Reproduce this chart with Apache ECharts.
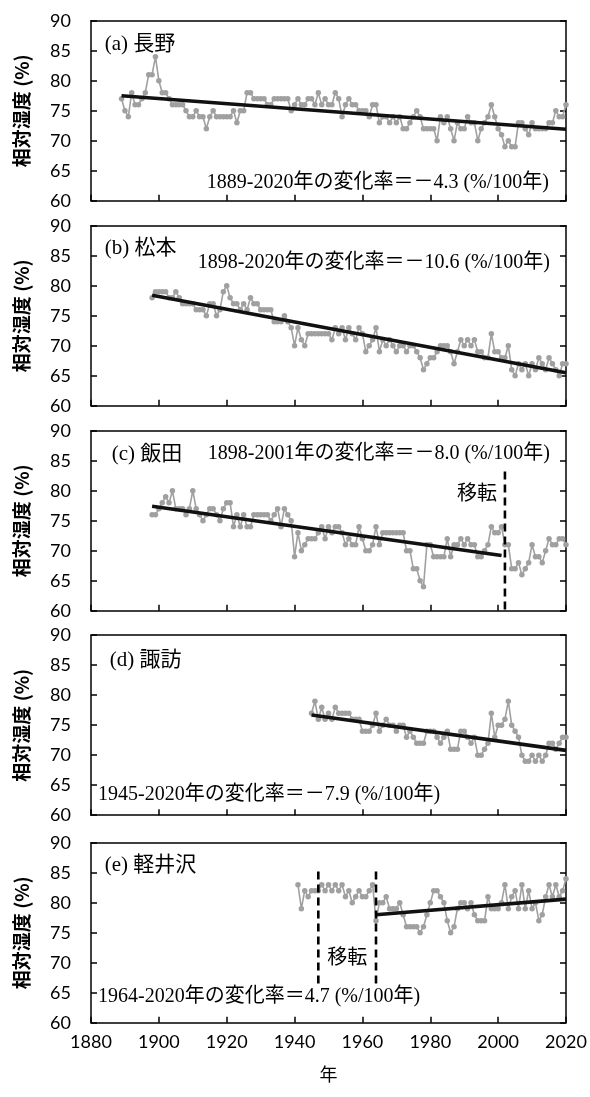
<!DOCTYPE html>
<html>
<head>
<meta charset="utf-8">
<script src="https://cdn.jsdelivr.net/npm/echarts@6/dist/echarts.min.js"></script>
<style>
  html, body { margin: 0; padding: 0; background: #fff; }
  #chart { width: 590px; height: 1097px; }
</style>
</head>
<body>
<div id="chart"></div>
<script>
// Annual mean relative humidity (%) at five stations in Nagano Prefecture.

// ---- axes ----
const yearTicks = [1880, 1900, 1920, 1940, 1960, 1980, 2000, 2020];
const rhTicks = [60, 65, 70, 75, 80, 85, 90];

// ---- (a) Nagano, 1889-2020 ----
const naganoStart = 1889;
const naganoRH = [
  77, 75, 74, 78, 76, 76, 77, 78, 81, 81,
  84, 80, 78, 78, 77, 76, 76, 76, 76, 75,
  74, 74, 75, 74, 74, 72, 74, 75, 74, 74,
  74, 74, 74, 75, 73, 75, 75, 78, 78, 77,
  77, 77, 77, 76, 76, 77, 77, 77, 77, 77,
  75, 76, 77, 76, 76, 77, 77, 76, 78, 76,
  77, 76, 76, 78, 77, 74, 76, 77, 76, 76,
  75, 75, 75, 74, 76, 76, 73, 74, 74, 73,
  74, 73, 74, 72, 72, 73, 74, 75, 74, 72,
  72, 72, 72, 70, 74, 73, 74, 72, 70, 73,
  72, 72, 74, 73, 73, 70, 72, 73, 74, 76,
  74, 72, 71, 69, 70, 69, 69, 73, 73, 72,
  71, 73, 72, 72, 72, 72, 73, 73, 75, 74,
  74, 76
];
const naganoTrend = [[1889, 77.5], [2020, 71.9]];

// ---- (b) Matsumoto, 1898-2020 ----
const matsumotoStart = 1898;
const matsumotoRH = [
  78, 79, 79, 79, 79, 78, 78, 79, 78, 77,
  77, 77, 77, 76, 76, 76, 75, 77, 77, 75,
  76, 79, 80, 78, 77, 77, 76, 77, 76, 78,
  77, 77, 76, 76, 76, 76, 74, 74, 74, 75,
  74, 73, 70, 73, 71, 70, 72, 72, 72, 72,
  72, 72, 72, 71, 73, 72, 73, 71, 73, 72,
  71, 73, 72, 69, 70, 71, 73, 69, 71, 70,
  71, 70, 69, 70, 70, 69, 70, 70, 69, 68,
  66, 67, 68, 68, 69, 70, 70, 70, 69, 67,
  69, 71, 70, 71, 70, 71, 69, 69, 68, 68,
  72, 69, 69, 68, 68, 70, 66, 65, 67, 66,
  67, 65, 67, 66, 68, 67, 66, 68, 67, 66,
  65, 67, 67
];
const matsumotoTrend = [[1898, 78.4], [2020, 65.5]];

// ---- (c) Iida, 1898-2020 (station moved in 2002) ----
const iidaStart = 1898;
const iidaRH = [
  76, 76, 77, 78, 79, 78, 80, 77, 77, 77,
  76, 77, 80, 77, 76, 75, 76, 77, 77, 76,
  75, 77, 78, 78, 74, 76, 74, 76, 74, 74,
  76, 76, 76, 76, 76, 75, 76, 77, 74, 77,
  76, 75, 69, 73, 70, 71, 72, 72, 72, 73,
  74, 72, 74, 73, 74, 74, 73, 71, 72, 71,
  71, 74, 72, 70, 70, 71, 74, 71, 73, 73,
  73, 73, 73, 73, 73, 70, 70, 67, 67, 65,
  64, 71, 71, 69, 69, 69, 69, 72, 69, 71,
  71, 72, 71, 72, 71, 71, 69, 69, 70, 71,
  74, 73, 73, 74, 71, 71, 67, 67, 68, 66,
  67, 68, 71, 69, 69, 68, 70, 72, 71, 71,
  72, 72, 71
];
const iidaTrend = [[1898, 77.4], [2001, 69.2]];
const iidaMoves = [2002];

// ---- (d) Suwa, 1945-2020 ----
const suwaStart = 1945;
const suwaRH = [
  77, 79, 76, 78, 76, 77, 76, 78, 77, 77,
  77, 77, 76, 76, 76, 74, 74, 74, 75, 77,
  74, 75, 76, 75, 75, 74, 75, 75, 73, 74,
  73, 72, 72, 72, 74, 74, 74, 73, 72, 73,
  74, 71, 71, 71, 74, 74, 73, 72, 73, 70,
  70, 71, 72, 77, 73, 75, 75, 76, 79, 75,
  74, 73, 70, 69, 69, 70, 69, 70, 69, 70,
  72, 72, 71, 72, 73, 73
];
const suwaTrend = [[1945, 76.7], [2020, 70.8]];

// ---- (e) Karuizawa, 1941-2020 (station moved in 1947 and 1964) ----
const karuizawaStart = 1941;
const karuizawaRH = [
  83, 79, 82, 81, 82, 82, 82, 83, 82, 83,
  82, 83, 82, 83, 81, 82, 80, 81, 82, 81,
  81, 82, 83, 77, 80, 80, 81, 79, 79, 79,
  80, 78, 76, 76, 76, 76, 75, 76, 78, 80,
  82, 82, 81, 80, 77, 75, 76, 79, 80, 80,
  79, 80, 78, 77, 77, 77, 81, 79, 79, 79,
  80, 83, 79, 81, 82, 79, 83, 79, 82, 79,
  80, 77, 78, 81, 83, 81, 83, 81, 82, 84
];
const karuizawaTrend = [[1964, 78.0], [2020, 80.6]];
const karuizawaMoves = [1947, 1964];

// ---- text ----
const panelTitles = ['(a) 長野', '(b) 松本', '(c) 飯田', '(d) 諏訪', '(e) 軽井沢'];
const rateTexts = [
  '1889-2020年の変化率＝－4.3 (%/100年)',
  '1898-2020年の変化率＝－10.6 (%/100年)',
  '1898-2001年の変化率＝－8.0 (%/100年)',
  '1945-2020年の変化率＝－7.9 (%/100年)',
  '1964-2020年の変化率＝4.7 (%/100年)'
];
const moveLabel = '移転';
const yTitle = '相対湿度 (%)';
const xTitle = '年';

// ---- layout ----
const GRID_LEFT = 91;
const GRID_WIDTH = 475;
const GRID_HEIGHT = 180;
const GRID_TOPS = [20.7, 225.7, 430.7, 635.2, 842.7];
const GREY = '#a0a0a0';
const INK = '#000';
const TEXT_FONT = '"Liberation Serif", "Noto Sans CJK JP", serif';
const TICK_FONT = 'Lato, "Liberation Sans", sans-serif';
const CJK_FONT = '"Noto Sans CJK JP", sans-serif';

// where each panel's annotations sit: [x, y, align] in pixels
const titlePos = [[104.7, 44], [104.7, 248], [111.7, 454], [109.7, 660], [104.7, 865]];
const ratePos = [[549, 183, 'right'], [550, 263, 'right'], [550, 454, 'right'], [98, 795, 'left'], [98, 997, 'left']];
// RH range covered by the dashed relocation markers in each panel
const moveSpan = [null, null, [83.2, 60], null, [85.2, 66]];

const panels = [
  { start: naganoStart, values: naganoRH, trend: naganoTrend, moves: [] },
  { start: matsumotoStart, values: matsumotoRH, trend: matsumotoTrend, moves: [] },
  { start: iidaStart, values: iidaRH, trend: iidaTrend, moves: iidaMoves },
  { start: suwaStart, values: suwaRH, trend: suwaTrend, moves: [] },
  { start: karuizawaStart, values: karuizawaRH, trend: karuizawaTrend, moves: karuizawaMoves }
];

const xMin = yearTicks[0], xMax = yearTicks[yearTicks.length - 1];
const xStep = yearTicks[1] - yearTicks[0];
const yMin = rhTicks[0], yMax = rhTicks[rhTicks.length - 1];
const yStep = rhTicks[1] - rhTicks[0];

const axisLineStyle = { color: INK, width: 1.5 };
const plain = v => String(v);

const grid = [], xAxis = [], yAxis = [], series = [];

panels.forEach((p, i) => {
  const last = i === panels.length - 1;
  grid.push({ left: GRID_LEFT, width: GRID_WIDTH, top: GRID_TOPS[i], height: GRID_HEIGHT });

  // bottom axis with inward ticks
  xAxis.push({
    gridIndex: i, type: 'value', min: xMin, max: xMax, interval: xStep, position: 'bottom',
    axisLine: { show: true, onZero: false, lineStyle: axisLineStyle },
    axisTick: { show: true, inside: true, length: 6, lineStyle: axisLineStyle },
    axisLabel: { show: last, color: INK, fontSize: 18, fontFamily: TICK_FONT, margin: 10, formatter: plain },
    splitLine: { show: false },
    name: last ? xTitle : '', nameLocation: 'middle', nameGap: 42,
    nameTextStyle: { color: INK, fontSize: 18, fontFamily: CJK_FONT }
  });
  // top frame edge
  xAxis.push({
    gridIndex: i, type: 'value', min: xMin, max: xMax, interval: xStep, position: 'top',
    axisLine: { show: true, onZero: false, lineStyle: axisLineStyle },
    axisTick: { show: false }, axisLabel: { show: false }, splitLine: { show: false }
  });
  // left axis
  yAxis.push({
    gridIndex: i, type: 'value', min: yMin, max: yMax, interval: yStep, position: 'left',
    axisLine: { show: true, onZero: false, lineStyle: axisLineStyle },
    axisTick: { show: true, inside: true, length: 6, lineStyle: axisLineStyle },
    axisLabel: { color: INK, fontSize: 18, fontFamily: TICK_FONT, margin: 20, formatter: plain },
    splitLine: { show: false },
    name: yTitle, nameLocation: 'middle', nameGap: 60, nameRotate: 90,
    nameTextStyle: { color: INK, fontSize: 19, fontWeight: 'bold', fontFamily: CJK_FONT }
  });
  // right frame edge with mirrored ticks
  yAxis.push({
    gridIndex: i, type: 'value', min: yMin, max: yMax, interval: yStep, position: 'right',
    axisLine: { show: true, onZero: false, lineStyle: axisLineStyle },
    axisTick: { show: true, inside: true, length: 6, lineStyle: axisLineStyle },
    axisLabel: { show: false }, splitLine: { show: false }
  });

  const xi = 2 * i, yi = 2 * i;

  series.push({
    type: 'line', xAxisIndex: xi, yAxisIndex: yi,
    data: p.values.map((v, k) => [p.start + k, v]),
    symbol: 'circle', symbolSize: 5.5, showSymbol: true,
    itemStyle: { color: GREY },
    lineStyle: { color: GREY, width: 1.6 },
    z: 2, silent: true
  });

  series.push({
    type: 'line', xAxisIndex: xi, yAxisIndex: yi,
    data: p.trend,
    symbol: 'none',
    lineStyle: { color: '#111', width: 3.6 },
    z: 3, silent: true
  });

  p.moves.forEach(year => {
    const span = moveSpan[i];
    series.push({
      type: 'line', xAxisIndex: xi, yAxisIndex: yi,
      data: [[year, span[0]], [year, span[1]]],
      symbol: 'none',
      lineStyle: { color: INK, width: 2.6, type: [8, 5] },
      z: 4, silent: true
    });
  });
});

const chart = echarts.init(document.getElementById('chart'));
chart.setOption({
  animation: false,
  backgroundColor: '#fff',
  grid, xAxis, yAxis, series
});

// annotations placed after layout so move labels follow the dashed lines
const graphic = [];
panelTitles.forEach((t, i) => {
  graphic.push({
    type: 'text', silent: true,
    style: { text: t, x: titlePos[i][0], y: titlePos[i][1], fill: INK,
      font: '21px ' + TEXT_FONT, align: 'left', verticalAlign: 'middle' }
  });
  graphic.push({
    type: 'text', silent: true,
    style: { text: rateTexts[i], x: ratePos[i][0], y: ratePos[i][1], fill: INK,
      font: '20px ' + TEXT_FONT, align: ratePos[i][2], verticalAlign: 'middle' }
  });
});

// Iida: label to the left of the dashed line
{
  const pt = chart.convertToPixel({ xAxisIndex: 4, yAxisIndex: 4 }, [iidaMoves[0], 79.7]);
  graphic.push({
    type: 'text', silent: true,
    style: { text: moveLabel, x: pt[0] - 8, y: pt[1], fill: INK,
      font: '20px ' + CJK_FONT, align: 'right', verticalAlign: 'middle' }
  });
}
// Karuizawa: label between the two dashed lines
{
  const a = chart.convertToPixel({ xAxisIndex: 8, yAxisIndex: 8 }, [karuizawaMoves[0], 71]);
  const b = chart.convertToPixel({ xAxisIndex: 8, yAxisIndex: 8 }, [karuizawaMoves[1], 71]);
  graphic.push({
    type: 'text', silent: true,
    style: { text: moveLabel, x: (a[0] + b[0]) / 2, y: a[1], fill: INK,
      font: '20px ' + CJK_FONT, align: 'center', verticalAlign: 'middle' }
  });
}

chart.setOption({ graphic });
</script>
</body>
</html>
